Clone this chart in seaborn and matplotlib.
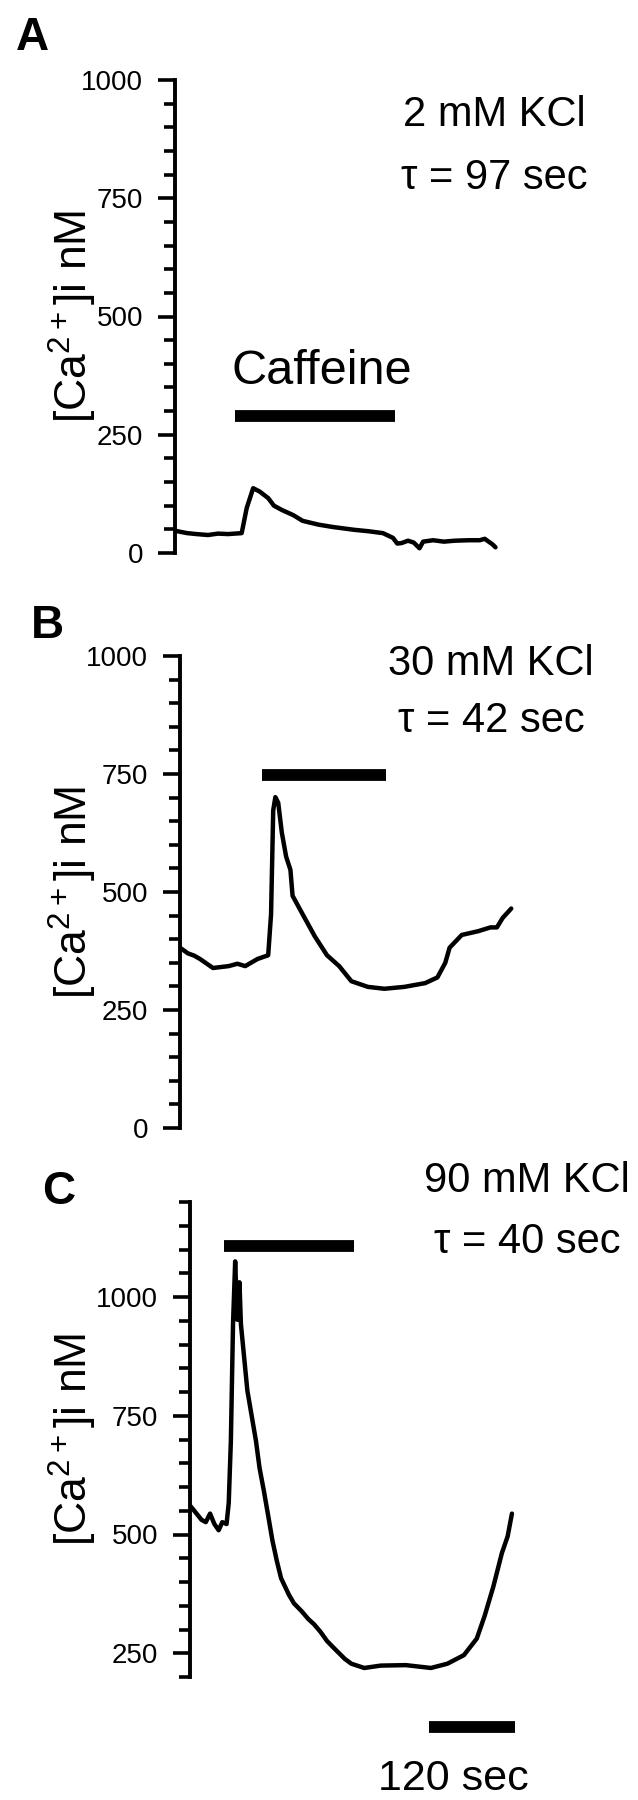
import numpy as np
import pandas as pd
import matplotlib
matplotlib.use('Agg')
import matplotlib.pyplot as plt
from matplotlib.ticker import MultipleLocator, FixedLocator
import seaborn as sns

# traces (time in s, [Ca2+]i in nM)
a_time = [0, 17, 30, 46, 60, 74, 93, 100, 109, 118, 130, 138, 149, 165, 178, 200, 220, 250, 270, 290, 304, 310, 316, 325, 333, 341, 346, 360, 375, 390, 410, 425, 432, 443, 447]
a_ca = [47, 42, 40, 38, 41, 40, 42, 95, 137, 130, 116, 100, 91, 80, 68, 60, 55, 49, 46, 42, 32, 20, 21, 26, 22, 10, 24, 27, 24, 26, 27, 27, 30, 18, 12]

b_time = [0, 11, 20, 28, 46, 68, 80, 91, 108, 123, 127, 130, 133, 137, 142, 148, 154, 157, 171, 188, 205, 222, 239, 262, 285, 313, 342, 359, 370, 376, 393, 416, 433, 442, 450, 462]
b_ca = [382, 370, 365, 358, 339, 343, 348, 343, 358, 366, 453, 673, 701, 689, 626, 575, 547, 492, 453, 406, 366, 343, 311, 299, 295, 299, 307, 319, 350, 382, 409, 417, 425, 425, 445, 465]

c_time = [0, 7, 16, 22, 28, 34, 40, 45, 51, 54, 57, 60, 63, 66, 69, 71, 80, 86, 92, 97, 103, 109, 115, 121, 127, 138, 145, 156, 165, 173, 182, 191, 200, 208, 216, 225, 243, 266, 301, 336, 359, 382, 400, 411, 423, 435, 443, 449]
c_ca = [561, 548, 531, 526, 544, 522, 509, 526, 522, 566, 697, 943, 1075, 952, 1031, 943, 803, 750, 697, 640, 592, 540, 487, 445, 408, 373, 355, 338, 322, 311, 295, 276, 262, 250, 238, 228, 219, 224, 225, 219, 228, 246, 281, 329, 390, 461, 496, 544]

panel_letters = ['A', 'B', 'C']
kcl_labels = ['2 mM KCl', '30 mM KCl', '90 mM KCl']
tau_labels = ['\u03c4 = 97 sec', '\u03c4 = 42 sec', '\u03c4 = 40 sec']
caffeine_start = [84, 114, 47]
caffeine_end = [307, 287, 229]
caffeine_level = [290, 748, 1108]
y_ranges = [(0, 1000), (0, 1000), (200, 1200)]
y_ticks = [[0, 250, 500, 750, 1000], [0, 250, 500, 750, 1000], [250, 500, 750, 1000]]
scalebar_start = 333
scalebar_len = 120

sns.set_style('white')
plt.rcParams['font.family'] = ['Liberation Sans', 'DejaVu Sans']
plt.rcParams['mathtext.fontset'] = 'custom'
plt.rcParams['mathtext.rm'] = 'Liberation Sans'
plt.rcParams['mathtext.default'] = 'regular'
plt.rcParams['text.color'] = 'black'
plt.rcParams['axes.labelcolor'] = 'black'
plt.rcParams['ytick.color'] = 'black'
plt.rcParams['ytick.labelcolor'] = 'black'

W, H = 638, 1800
fig = plt.figure(figsize=(W / 100, H / 100), dpi=100)

px_per_s = 0.717
# left spine x, top px, bottom px for each panel
boxes = [(175, 80, 553), (180, 656, 1128), (190, 1202, 1677)]
letter_pos = [(32, 38), (47, 626), (59, 1192)]
text_pos = [((446, 925), (446, 792)), ((434, 984), (434, 862)), ((470, 1244), (470, 1115))]

traces = [(a_time, a_ca), (b_time, b_ca), (c_time, c_ca)]
xmax = 470

for i, (left, top, bottom) in enumerate(boxes):
    width = xmax * px_per_s
    ax = fig.add_axes([left / W, 1 - bottom / H, width / W, (bottom - top) / H])
    t, ca = traces[i]
    df = pd.DataFrame({'time': t, 'ca': ca})
    sns.lineplot(data=df, x='time', y='ca', ax=ax, color='black', lw=3.2,
                 estimator=None, sort=False)
    ax.hlines(caffeine_level[i], caffeine_start[i], caffeine_end[i], color='black',
              lw=8.5, clip_on=False)
    ax.set_xlim(0, xmax)
    ax.set_ylim(*y_ranges[i])
    for s in ['top', 'right', 'bottom']:
        ax.spines[s].set_visible(False)
    ax.spines['left'].set_linewidth(2.8)
    ax.spines['left'].set_color('black')
    ax.set_xticks([])
    ax.yaxis.set_major_locator(FixedLocator(y_ticks[i]))
    ax.yaxis.set_minor_locator(MultipleLocator(50))
    ax.tick_params(axis='y', which='major', direction='out', length=12, width=2.6,
                   color='black', labelsize=20, pad=11, left=True)
    ax.tick_params(axis='y', which='minor', direction='out', length=8, width=2.6,
                   color='black', left=True)
    ax.set_xlabel('')
    ax.set_ylabel(r'[Ca$^{2+}$]i nM', fontsize=32)
    ax.yaxis.set_label_coords((99 - left) / width, 0.5)
    ax.patch.set_alpha(0)

    (kx, ky), (tx, ty) = text_pos[i]
    ax.text(kx, ky, kcl_labels[i], fontsize=30, ha='center', va='center', clip_on=False)
    ax.text(tx, ty, tau_labels[i], fontsize=30, ha='center', va='center', clip_on=False)
    lx, ly = letter_pos[i]
    fig.text(lx / W, 1 - ly / H, panel_letters[i], fontsize=33, fontweight='bold',
             ha='center', va='center')

    if i == 0:
        ax.text(205, 384, 'Caffeine', fontsize=35, ha='center', va='center', clip_on=False)
    if i == 2:
        ax.hlines(94, scalebar_start, scalebar_start + scalebar_len, color='black',
                  lw=8.5, clip_on=False)
        ax.text(368, -15, '120 sec', fontsize=31, ha='center', va='center', clip_on=False)

fig.savefig('out.png', dpi=100)
